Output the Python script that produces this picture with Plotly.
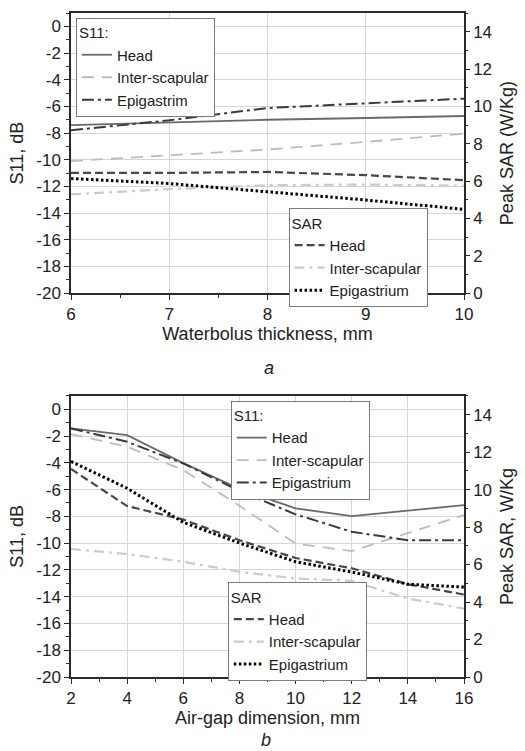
import plotly.graph_objects as go

# ---------------- data ----------------
x_a = [6, 7, 8, 9, 10]
s11_head_a = [-7.40, -7.20, -7.00, -6.87, -6.72]
s11_inter_a = [-10.10, -9.65, -9.23, -8.66, -8.04]
s11_epi_a = [-7.79, -7.04, -6.12, -5.77, -5.42]
sar_head_a = [6.44, 6.44, 6.49, 6.32, 6.05]
sar_inter_a = [5.29, 5.57, 5.78, 5.82, 5.75]
sar_epi_a = [6.14, 5.87, 5.43, 4.99, 4.49]

x_b = [2, 4, 6, 8, 10, 12, 14, 16]
s11_head_b = [-1.43, -1.93, -4.02, -5.95, -7.40, -7.98, -7.58, -7.16]
s11_inter_b = [-1.85, -2.80, -4.55, -7.20, -10.03, -10.60, -9.25, -7.90]
s11_epi_b = [-1.43, -2.43, -4.05, -6.10, -7.85, -9.15, -9.78, -9.78]
sar_head_b = [11.10, 9.12, 8.40, 7.30, 6.35, 5.80, 4.95, 4.40]
sar_inter_b = [6.83, 6.56, 6.15, 5.61, 5.26, 5.13, 4.19, 3.65]
sar_epi_b = [11.50, 10.07, 8.25, 7.15, 6.15, 5.60, 4.95, 4.80]

s11_tickvals = [0, -2, -4, -6, -8, -10, -12, -14, -16, -18, -20]
s11_ticktext = ["0", "-2", "-4", "-6", "-8", "-10", "-12", "-14", "-16", "-18", "-20"]
sar_tickvals = [0, 2, 4, 6, 8, 10, 12, 14]
xa_ticks = [6, 7, 8, 9, 10]
xb_ticks = [2, 4, 6, 8, 10, 12, 14, 16]

s11_names_a = ["Head", "Inter-scapular", "Epigastrim"]
s11_names_b = ["Head", "Inter-scapular", "Epigastrium"]
sar_names = ["Head", "Inter-scapular", "Epigastrium"]

# ---------------- styles ----------------
FONT = "Liberation Sans, Arial, sans-serif"
s11_styles = [
    dict(color="#6a6a6a", width=1.8, dash="solid"),
    dict(color="#bcbcbc", width=1.8, dash="12px,8px"),
    dict(color="#3a3a3a", width=2.0, dash="12px,4px,3px,4px"),
]
sar_styles = [
    dict(color="#464646", width=2.2, dash="8px,4px"),
    dict(color="#cbcbcb", width=2.2, dash="10px,5px,3px,5px"),
    dict(color="#000000", width=3.0, dash="2.5px,2.5px"),
]

fig = go.Figure()

def add_panel(x, s11_list, sar_list, s11_names, xa, ya, ya2, leg_s11, leg_sar):
    for y, nm, st in zip(s11_list, s11_names, s11_styles):
        fig.add_trace(go.Scatter(x=x, y=y, mode="lines", name=nm, line=st,
                                 xaxis=xa, yaxis=ya, legend=leg_s11))
    for y, nm, st in zip(sar_list, sar_names, sar_styles):
        fig.add_trace(go.Scatter(x=x, y=y, mode="lines", name=nm, line=st,
                                 xaxis=xa, yaxis=ya2, legend=leg_sar))

add_panel(x_a, [s11_head_a, s11_inter_a, s11_epi_a],
          [sar_head_a, sar_inter_a, sar_epi_a], s11_names_a,
          "x", "y", "y2", "legend", "legend2")
add_panel(x_b, [s11_head_b, s11_inter_b, s11_epi_b],
          [sar_head_b, sar_inter_b, sar_epi_b], s11_names_b,
          "x2", "y3", "y4", "legend3", "legend4")

AX = "#2a2a2a"
GRID = "#d6d6d6"
TICKF = dict(family=FONT, size=17, color="#222")
TITLEF = dict(family=FONT, size=18, color="#222")

def xaxis(rng, ticks, minor_dt, title, anchor):
    return dict(range=rng, tickvals=ticks, anchor=anchor, showline=True, linecolor=AX,
                linewidth=1.5, mirror=True, ticks="outside", ticklen=5, tickwidth=1.2,
                tickcolor=AX, showgrid=True, gridcolor=GRID, gridwidth=1,
                minor=dict(dtick=minor_dt, ticks="outside", ticklen=3, tickcolor=AX, showgrid=False),
                tickfont=TICKF, title=dict(text=title, font=TITLEF, standoff=3),
                zeroline=False)

def yleft(dom, anchor):
    return dict(domain=dom, range=[-20, 1], anchor=anchor, tickvals=s11_tickvals,
                ticktext=s11_ticktext, showline=True, linecolor=AX, linewidth=1.5,
                ticks="outside", ticklen=5, tickwidth=1.2, tickcolor=AX,
                minor=dict(dtick=1, ticks="outside", ticklen=3, tickcolor=AX, showgrid=False),
                showgrid=True, gridcolor=GRID, gridwidth=1, zeroline=False,
                tickfont=TICKF, title=dict(text="S11, dB", font=TITLEF, standoff=8))

def yright(over, anchor, title):
    return dict(overlaying=over, side="right", anchor=anchor, range=[0, 15],
                tickvals=sar_tickvals, showline=True, linecolor=AX, linewidth=1.5,
                ticks="outside", ticklen=4, tickwidth=1.2, tickcolor=AX,
                minor=dict(dtick=1, ticks="outside", ticklen=2, tickcolor=AX, showgrid=False),
                showgrid=False, zeroline=False, tickfont=TICKF,
                title=dict(text=title, font=TITLEF, standoff=9))

def legend(x, y, title):
    return dict(x=x, y=y, xanchor="left", yanchor="top", bgcolor="white",
                bordercolor="#7a7a7a", borderwidth=1,
                font=dict(family=FONT, size=15, color="#222"),
                title=dict(text=title, font=dict(family=FONT, size=15, color="#222")),
                tracegroupgap=0, itemwidth=30)

fig.update_layout(
    width=525, height=751,
    margin=dict(l=71, r=53, t=11, b=74),
    paper_bgcolor="white", plot_bgcolor="white",
    font=dict(family=FONT, size=16, color="#222"),
    xaxis=xaxis([6, 10], xa_ticks, 0.5, "Waterbolus thickness, mm", "y"),
    yaxis=yleft([0.578, 1.0], "x"),
    yaxis2=yright("y", "x", "Peak SAR (W/Kg)"),
    xaxis2=xaxis([2, 16], xb_ticks, 1, "Air-gap dimension, mm", "y3"),
    yaxis3=yleft([0.0, 0.4234], "x2"),
    yaxis4=yright("y3", "x2", "Peak SAR, W/Kg"),
    legend=legend(0.0125, 0.9925, "S11:"),
    legend2=legend(0.5536, 0.7057, "SAR"),
    legend3=legend(0.4065, 0.4159, "S11:"),
    legend4=legend(0.399, 0.1426, "SAR"),
    showlegend=True,
)

fig.add_annotation(text="<i>a</i>", x=0.504, y=(677 - 367) / 666, xref="paper", yref="paper",
                   yanchor="middle", showarrow=False,
                   font=dict(family=FONT, size=18, color="#222"))
fig.add_annotation(text="<i>b</i>", x=0.496, y=(677 - 740) / 666, xref="paper", yref="paper",
                   yanchor="middle", showarrow=False,
                   font=dict(family=FONT, size=18, color="#222"))

fig.write_html("out.html")
